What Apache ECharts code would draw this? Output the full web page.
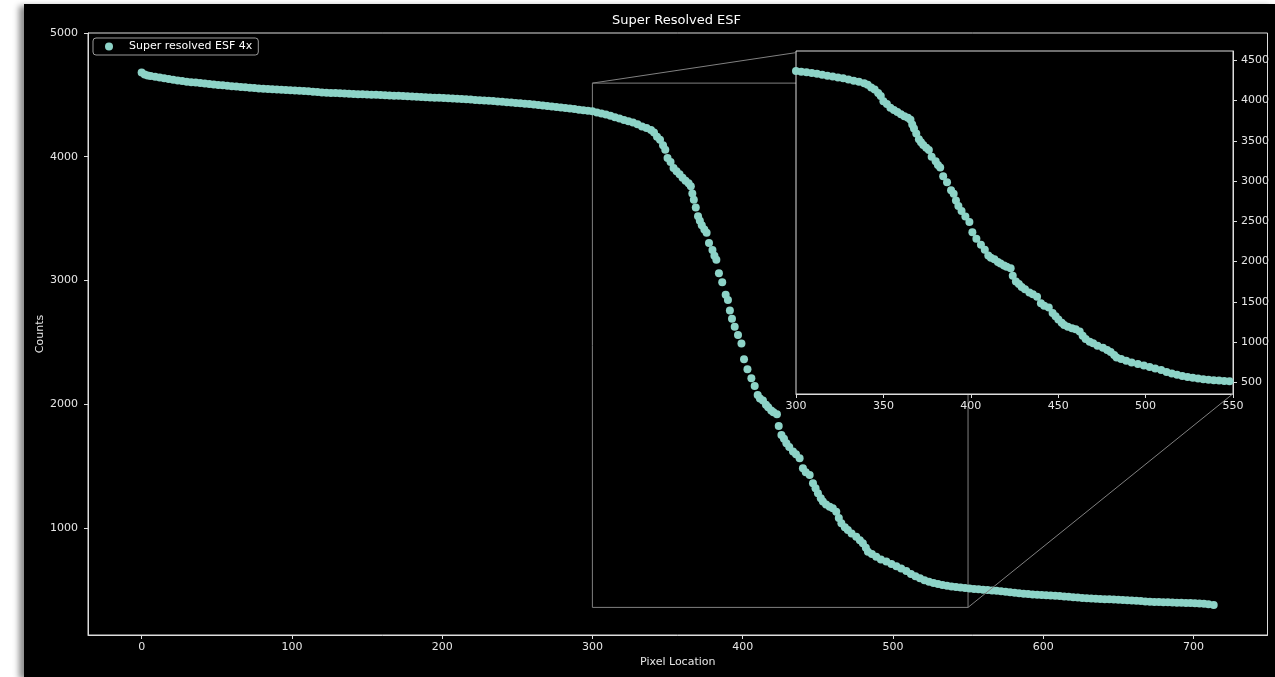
<!DOCTYPE html>
<html>
<head>
<meta charset="utf-8">
<title>Super Resolved ESF</title>
<script src="https://cdn.jsdelivr.net/npm/echarts@6/dist/echarts.min.js"></script>
<style>
    html, body { margin: 0; padding: 0; background: #fff; overflow: hidden; }
    #main { position: absolute; left: 24px; top: 4px; width: 1251px; height: 673px; background: #000;
            box-shadow: -5px 2px 6px rgba(0, 0, 0, 0.45); }
</style>
</head>
<body>
<div id="main"></div>
<script>
// ESF samples: [pixel location, counts]
var esfPoints = [
    [0,4681],[2,4664],[4,4657],[6,4652],[9,4647],[12,4641],[15,4634],[18,4628],[21,4622],[24,4617],
    [27,4612],[30,4607],[33,4603],[36,4599],[39,4595],[42,4591],[45,4588],[48,4584],[51,4580],[54,4577],
    [57,4574],[60,4570],[63,4567],[66,4564],[69,4561],[72,4558],[75,4555],[78,4552],[81,4549],[84,4547],
    [87,4545],[90,4543],[93,4541],[96,4539],[99,4537],[102,4535],[105,4533],[108,4531],[111,4529],[114,4526],
    [117,4523],[120,4520],[123,4518],[126,4516],[129,4515],[132,4513],[135,4511],[138,4510],[141,4508],[144,4506],
    [147,4505],[150,4503],[153,4501],[156,4500],[159,4498],[162,4497],[165,4495],[168,4493],[171,4492],[174,4490],
    [177,4488],[180,4486],[183,4485],[186,4483],[189,4481],[192,4479],[195,4477],[198,4476],[201,4474],[204,4472],
    [207,4470],[210,4468],[213,4466],[216,4464],[219,4462],[222,4459],[225,4457],[228,4455],[231,4452],[234,4450],
    [237,4447],[240,4444],[243,4441],[246,4438],[249,4435],[252,4432],[255,4429],[258,4426],[261,4422],[264,4419],
    [267,4415],[270,4411],[273,4407],[276,4402],[279,4398],[282,4394],[285,4389],[288,4385],[291,4380],[294,4376],
    [297,4371],[300,4367],[303,4358],[306,4350],[309,4341],[312,4332],[315,4320],[318,4309],[321,4297],[324,4286],
    [327,4276],[330,4262],[333,4244],[336,4233],[339,4216],[341,4196],[343,4162],[345,4137],[347,4092],[348.5,4056],
    [350,3990],[352,3958],[354,3910],[356,3882],[358,3858],[360,3830],[362,3806],[364,3785],[365.5,3762],[366.5,3702],
    [367.5,3652],[368.8,3590],[370.3,3520],[371.5,3482],[372.8,3446],[374.5,3412],[376,3386],[377.6,3302],[379.9,3247],[381.2,3200],
    [382.5,3168],[384.2,3058],[386.4,2985],[388.7,2884],[390.2,2843],[391.5,2757],[392.9,2690],[394.7,2627],[396.9,2560],[399.2,2490],
    [400.9,2364],[403.2,2283],[405.8,2210],[408,2148],[410,2075],[411.5,2046],[413.5,2030],[415.5,1995],[417,1976],[419,1950],
    [420.5,1935],[422.8,1918],[424,1825],[425.8,1752],[427.5,1720],[429.1,1685],[431,1655],[433.5,1617],[435.5,1595],[437.9,1563],
    [440.1,1483],[442,1450],[444.6,1428],[446.8,1361],[448.5,1320],[450.1,1281],[452,1240],[453.4,1213],[455.5,1190],[457.9,1172],
    [460,1160],[462.3,1132],[464,1080],[465.7,1038],[468,1005],[470,984],[472.5,955],[475.6,930],[478,900],[480,876],
    [482,840],[483.4,808],[486,790],[488.9,768],[492,746],[495.6,728],[499,708],[502.3,690],[505.5,672],[508.9,652],
    [512,628],[515,610],[518,593],[521,578],[524,566],[527,556],[530,547],[533,539],[536,532],[539,527],
    [542,522],[545,518],[548,514],[551,510],[554,507],[557,504],[560,501],[563,498],[566,495],[569,492],
    [572,488],[575,484],[578,480],[581,476],[584,472],[587,469],[590,466],[593,463],[596,461],[599,458],
    [602,456],[605,454],[608,452],[611,450],[614,447],[617,444],[620,441],[623,438],[626,435],[629,432],
    [632,430],[635,428],[638,426],[641,424],[644,423],[647,421],[650,419],[653,417],[656,415],[659,413],
    [662,411],[665,409],[668,406],[671,404],[674,402],[677,401],[680,400],[683,399],[686,397],[689,396],
    [692,395],[695,394],[698,393],[701,392],[704,390],[707,387],[710,383],[713.5,377]
];

// tick labels
var mainXTicks = [0, 100, 200, 300, 400, 500, 600, 700];
var mainYTicks = [1000, 2000, 3000, 4000, 5000];
var insetXTicks = [300, 350, 400, 450, 500, 550];
var insetYTicks = [500, 1000, 1500, 2000, 2500, 3000, 3500, 4000, 4500];

// zoomed window (x range, y range)
var zoomX = [300, 550];
var zoomY = [358, 4595];

var font = 'DejaVu Sans';
var axisColor = '#dcdcdc';
var labelColor = '#e6e6e6';
var pointColor = '#8dd3c7';
var boxColor = '#808080';

var myChart = echarts.init(document.getElementById('main'));

function axisStyle(ticks, margin) {
    return {
        axisLine: { show: true, onZero: false, lineStyle: { color: axisColor, width: 1 } },
        axisTick: { show: true, length: 4, customValues: ticks, lineStyle: { color: axisColor } },
        axisLabel: {
            customValues: ticks, margin: margin, color: labelColor, fontSize: 11, fontFamily: font,
            formatter: function (v) { return String(v); }
        },
        splitLine: { show: false }
    };
}

var mainX = Object.assign({
    gridIndex: 0, type: 'value', min: -35.7, max: 749.3, z: 1,
    name: 'Pixel Location', nameLocation: 'middle', nameGap: 22, nameMoveOverlap: false,
    nameTextStyle: { color: labelColor, fontSize: 11, fontFamily: font }
}, axisStyle(mainXTicks, 7));

var mainY = Object.assign({
    gridIndex: 0, type: 'value', min: 135, max: 5000, z: 1,
    name: 'Counts', nameLocation: 'middle', nameGap: 42, nameMoveOverlap: false,
    nameTextStyle: { color: labelColor, fontSize: 11, fontFamily: font }
}, axisStyle(mainYTicks, 10));

var insetX = Object.assign({
    gridIndex: 1, type: 'value', min: zoomX[0], max: zoomX[1], z: 4
}, axisStyle(insetXTicks, 7));

var insetY = Object.assign({
    gridIndex: 1, type: 'value', position: 'right', min: 355, max: 4615, z: 4
}, axisStyle(insetYTicks, 8));

var zoomBox = [
    [zoomX[0], zoomY[0]], [zoomX[1], zoomY[0]], [zoomX[1], zoomY[1]],
    [zoomX[0], zoomY[1]], [zoomX[0], zoomY[0]]
];

myChart.setOption({
    backgroundColor: '#000',
    animation: false,
    title: {
        text: 'Super Resolved ESF', left: 588, top: 10, padding: 0,
        textStyle: { color: '#ffffff', fontSize: 13, fontWeight: 'normal', fontFamily: font }
    },
    legend: {
        data: ['Super resolved ESF 4x'],
        left: 69, top: 34, padding: [3, 6, 3, 12],
        itemWidth: 30, itemHeight: 8, icon: 'circle',
        borderColor: '#9a9a9a', borderWidth: 1, borderRadius: 3, backgroundColor: '#000',
        textStyle: { color: '#ffffff', fontSize: 11, fontFamily: font },
        z: 10
    },
    grid: [
        { left: 64, top: 29, width: 1179.5, height: 602, show: true, backgroundColor: '#000',
          borderColor: axisColor, borderWidth: 1, outerBoundsMode: 'none', containLabel: false },
        { left: 772, top: 47, width: 437, height: 343, show: true, backgroundColor: '#000',
          borderColor: axisColor, borderWidth: 1, z: 3, outerBoundsMode: 'none', containLabel: false }
    ],
    xAxis: [mainX, insetX],
    yAxis: [mainY, insetY],
    series: [
        {
            name: 'zoom box', type: 'line', xAxisIndex: 0, yAxisIndex: 0,
            data: zoomBox, symbol: 'none', silent: true, z: 1,
            lineStyle: { color: boxColor, width: 1 }
        },
        {
            name: 'Super resolved ESF 4x', type: 'scatter', xAxisIndex: 0, yAxisIndex: 0,
            data: esfPoints, symbolSize: 8, z: 2,
            itemStyle: { color: pointColor, opacity: 1 }
        },
        {
            name: 'inset', type: 'scatter', xAxisIndex: 1, yAxisIndex: 1,
            data: esfPoints, symbolSize: 8, z: 5, clip: true,
            itemStyle: { color: pointColor, opacity: 1 }
        }
    ]
});

// connector lines from the zoom box to the inset corners
var a = myChart.convertToPixel({ gridIndex: 0 }, [zoomX[0], zoomY[1]]);
var b = myChart.convertToPixel({ gridIndex: 1 }, [zoomX[0], zoomY[1]]);
var c = myChart.convertToPixel({ gridIndex: 0 }, [zoomX[1], zoomY[0]]);
var d = myChart.convertToPixel({ gridIndex: 1 }, [zoomX[1], zoomY[0]]);

myChart.setOption({
    graphic: [
        { type: 'line', silent: true, z: 6, shape: { x1: a[0], y1: a[1], x2: b[0], y2: b[1] },
          style: { stroke: boxColor, lineWidth: 1 } },
        { type: 'line', silent: true, z: 6, shape: { x1: c[0], y1: c[1], x2: d[0], y2: d[1] },
          style: { stroke: boxColor, lineWidth: 1 } }
    ]
});
</script>
</body>
</html>
